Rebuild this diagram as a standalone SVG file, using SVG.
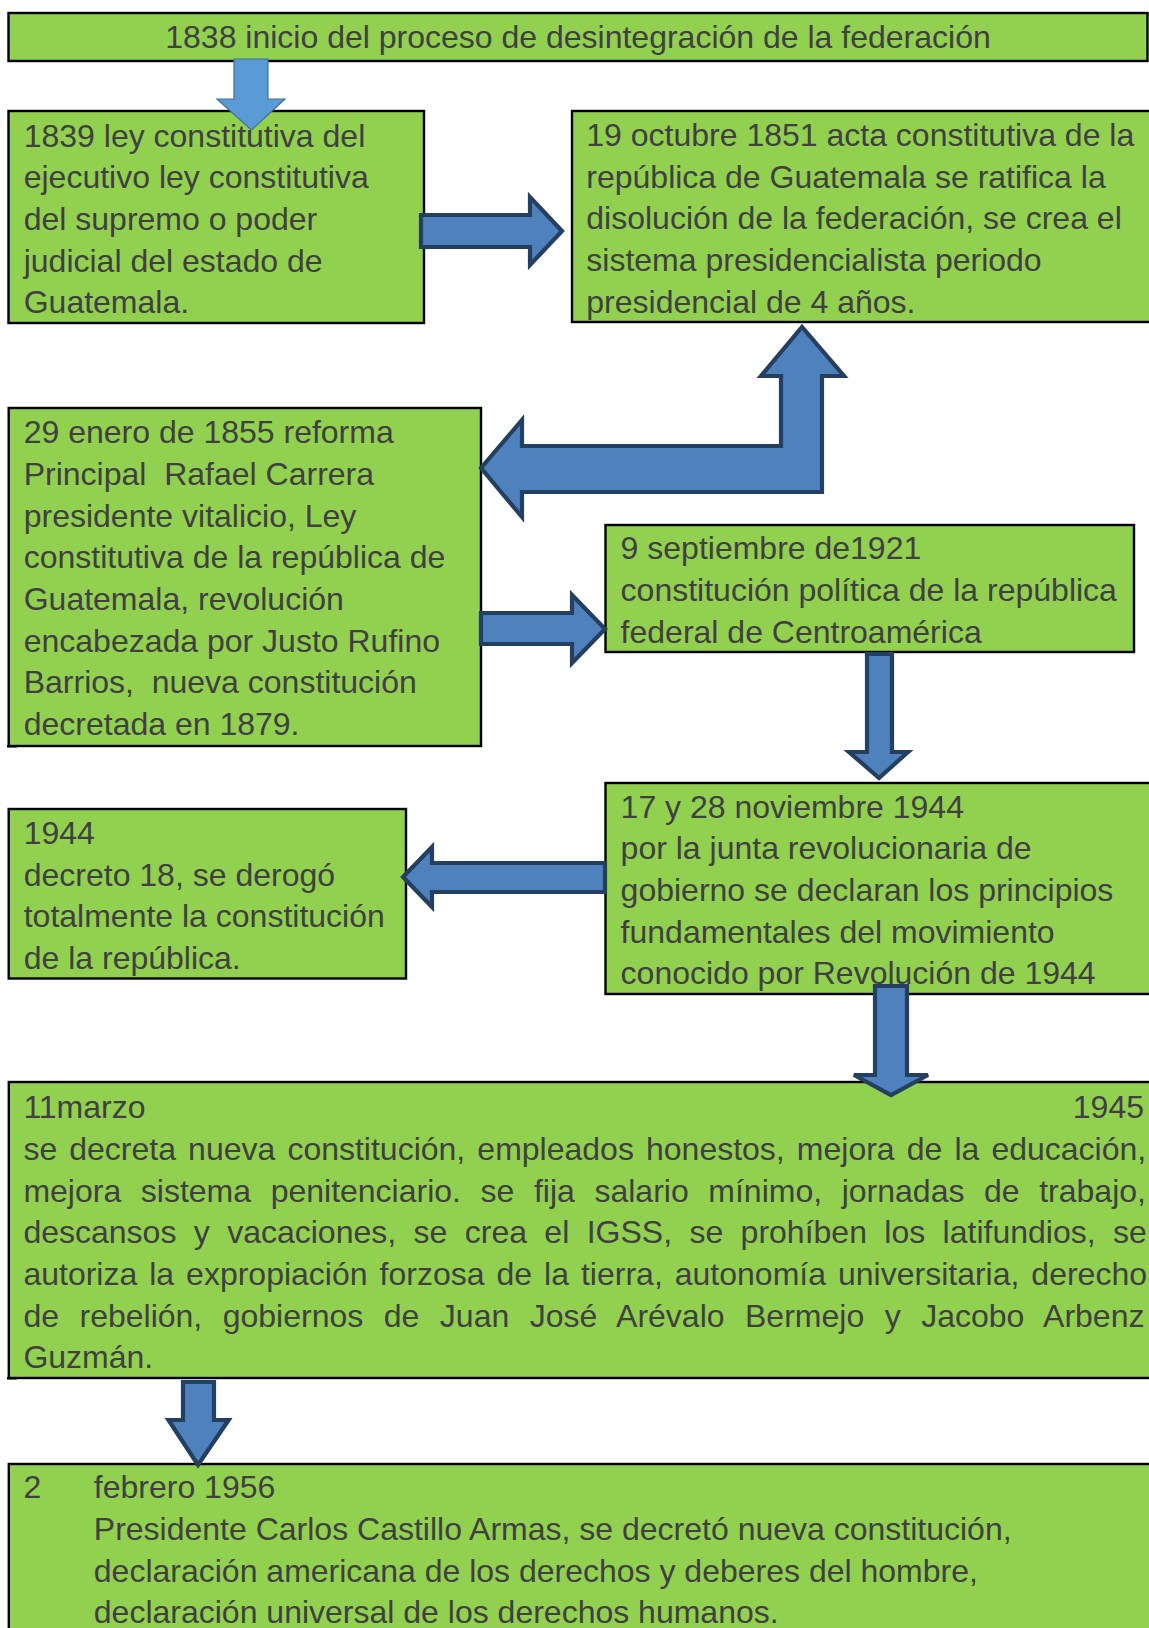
<svg xmlns="http://www.w3.org/2000/svg" width="1149" height="1628" viewBox="0 0 1149 1628">
<style>
.box{fill:#92D050;stroke:#000;stroke-width:2.4}
.t{font-family:"Liberation Sans",Arial,sans-serif;font-size:32px;fill:#404040}
.arr{fill:#4F81BD;stroke:#243F60;stroke-width:4.2;stroke-linejoin:miter}
.arr1{fill:#5B9BD5;stroke:#41719C;stroke-width:1.2}
</style>
<rect width="1149" height="1628" fill="#fff"/>
<g id="n1838">
<rect class="box" x="8.5" y="13" width="1139" height="48"/>
<text class="t" x="578" y="48" text-anchor="middle">1838 inicio del proceso de desintegración de la federación</text>
</g>
<g id="n1839">
<rect class="box" x="8.5" y="111" width="415.5" height="212"/>
<text class="t"><tspan x="23.7" y="146.5">1839 ley constitutiva del</tspan><tspan x="23.7" y="188.2">ejecutivo ley constitutiva</tspan><tspan x="23.7" y="229.8">del supremo o poder</tspan><tspan x="23.7" y="271.5">judicial del estado de</tspan><tspan x="23.7" y="313.2">Guatemala.</tspan></text>
</g>
<g id="n1851">
<rect class="box" x="572" y="111" width="590" height="211"/>
<text class="t"><tspan x="586.3" y="146">19 octubre 1851 acta constitutiva de la</tspan><tspan x="586.3" y="187.7">república de Guatemala se ratifica la</tspan><tspan x="586.3" y="229.3">disolución de la federación, se crea el</tspan><tspan x="586.3" y="271">sistema presidencialista periodo</tspan><tspan x="586.3" y="312.7">presidencial de 4 años.</tspan></text>
</g>
<g id="n1855">
<rect class="box" x="8.7" y="408" width="472.3" height="338"/>
<rect x="7" y="745" width="10" height="2.5" fill="#000"/>
<text class="t"><tspan x="23.7" y="443.3">29 enero de 1855 reforma</tspan><tspan x="23.7" y="485" xml:space="preserve">Principal  Rafael Carrera</tspan><tspan x="23.7" y="526.7">presidente vitalicio, Ley</tspan><tspan x="23.7" y="568.3">constitutiva de la república de</tspan><tspan x="23.7" y="610">Guatemala, revolución</tspan><tspan x="23.7" y="651.7">encabezada por Justo Rufino</tspan><tspan x="23.7" y="693.3" xml:space="preserve">Barrios,  nueva constitución</tspan><tspan x="23.7" y="735">decretada en 1879.</tspan></text>
</g>
<g id="n1921">
<rect class="box" x="605.5" y="525" width="528.5" height="127"/>
<text class="t"><tspan x="620.6" y="559.3">9 septiembre de1921</tspan><tspan x="620.6" y="601">constitución política de la república</tspan><tspan x="620.6" y="642.7">federal de Centroamérica</tspan></text>
</g>
<g id="n1944nov">
<rect class="box" x="605.5" y="783" width="570" height="211"/>
<text class="t"><tspan x="620.6" y="817.7">17 y 28 noviembre 1944</tspan><tspan x="620.6" y="859.3">por la junta revolucionaria de</tspan><tspan x="620.6" y="901">gobierno se declaran los principios</tspan><tspan x="620.6" y="942.7">fundamentales del movimiento</tspan><tspan x="620.6" y="984.3">conocido por Revolución de 1944</tspan></text>
</g>
<g id="n1944">
<rect class="box" x="8.7" y="809" width="397.3" height="169.5"/>
<text class="t"><tspan x="23.7" y="844">1944</tspan><tspan x="23.7" y="885.7">decreto 18, se derogó</tspan><tspan x="23.7" y="927.3">totalmente la constitución</tspan><tspan x="23.7" y="969">de la república.</tspan></text>
</g>
<g id="n1945">
<rect class="box" x="8.8" y="1082" width="1170" height="296"/>
<rect x="7" y="1377" width="10" height="2.5" fill="#000"/>
<text class="t" x="23.4" y="1118.3">11marzo</text>
<text class="t" x="1144" y="1118.3" text-anchor="end">1945</text>
<text class="t" x="23.4" y="1160" style="word-spacing:3.2px">se decreta nueva constitución, empleados honestos, mejora de la educación,</text>
<text class="t" x="23.4" y="1201.7" style="word-spacing:10.7px">mejora sistema penitenciario. se fija salario mínimo, jornadas de trabajo,</text>
<text class="t" x="23.4" y="1243.3" style="word-spacing:8.5px">descansos y vacaciones, se crea el IGSS, se prohíben los latifundios, se</text>
<text class="t" x="23.4" y="1285" style="word-spacing:3.1px">autoriza la expropiación forzosa de la tierra, autonomía universitaria, derecho</text>
<text class="t" x="23.4" y="1326.7" style="word-spacing:11.6px">de rebelión, gobiernos de Juan José Arévalo Bermejo y Jacobo Arbenz</text>
<text class="t" x="23.4" y="1368.3">Guzmán.</text>
</g>
<g id="n1956">
<rect class="box" x="8.8" y="1464" width="1170" height="200"/>
<text class="t" x="23.4" y="1498.3">2</text>
<text class="t"><tspan x="93.8" y="1498.3">febrero 1956</tspan><tspan x="93.8" y="1540">Presidente Carlos Castillo Armas, se decretó nueva constitución,</tspan><tspan x="93.8" y="1581.7">declaración americana de los derechos y deberes del hombre,</tspan><tspan x="93.8" y="1623.3">declaración universal de los derechos humanos.</tspan></text>
</g>
<g id="connectors">
<polygon class="arr1" points="234,59 268,59 268,99 285,99 251.4,130 217,99 234,99"/>
<polygon class="arr" points="421,215 530,215 530,197 562,231 530,265 530,247 421,247"/>
<polygon class="arr" points="481,468 522,420 522,446 781,446 781,376 761,376 802,327 844,376 822,376 822,492 522,492 522,517"/>
<polygon class="arr" points="481,613 572,613 572,595 605,629 572,663 572,644 481,644"/>
<polygon class="arr" points="867,654 892,654 892,752 908,752 879,778 849,752 867,752"/>
<polygon class="arr" points="605,863 432,863 432,847 403,877 432,907 432,892 605,892"/>
<polygon class="arr" points="875,986 907,986 907,1075 928,1075 891,1095 854,1075 875,1075"/>
<polygon class="arr" points="183,1382 214,1382 214,1420 228.6,1420 198,1465 168.5,1420 183,1420"/>
</g>
</svg>
